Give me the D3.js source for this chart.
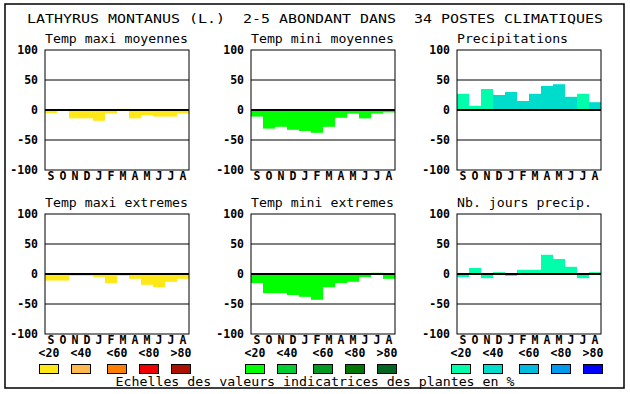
<!DOCTYPE html>
<html>
<head>
<meta charset="utf-8">
<script src="https://cdn.jsdelivr.net/npm/d3@7"></script>
<style>
  body { margin: 0; background: #fff; }
  text { font-family: "DejaVu Sans Mono", "Liberation Mono", monospace; fill: #000; }
  .tick-lbl, .month, .leg-lbl { font-weight: bold; font-size: 11.5px; }
</style>
</head>
<body>
<div id="chart"></div>
<script>
// Climate profile of a species, six small bar panels

const title = 'LATHYRUS MONTANUS (L.)  2-5 ABONDANT DANS  34 POSTES CLIMATIQUES';
const footer = 'Echelles des valeurs indicatrices des plantes en %';
const months = ['S', 'O', 'N', 'D', 'J', 'F', 'M', 'A', 'M', 'J', 'J', 'A'];
const yTicks = [100, 50, 0, -50, -100];

const tmaxMoy = [-5, 0, -14, -14, -18, -6, 2, -14, -9, -11, -11, -6];
const tminMoy = [-11, -31, -28, -33, -35, -38, -28, -13, -6, -14, -6, -4];
const precip = [27, 7, 35, 25, 30, 15, 27, 40, 43, 22, 27, 13];
const tmaxExt = [-11, -11, -3, -3, -5, -15, -3, -8, -18, -22, -13, -8];
const tminExt = [-15, -32, -32, -35, -38, -43, -22, -15, -13, -5, 2, -8];
const joursPrecip = [-5, 10, -7, 3, -3, 7, 7, 32, 25, 12, -7, 3];

// colour class of each bar (index into the panel's scale)
const precipClass = [0, 0, 0, 1, 1, 1, 1, 1, 1, 1, 0, 1];
const allFirst = months.map(() => 0);

const legendLabels = ['<20', '<40', '<60', '<80', '>80'];
const tempMaxColors = ['#ffe818', '#ffb84d', '#ff8000', '#ee0000', '#aa1100'];
const tempMinColors = ['#00ff00', '#00cc33', '#009922', '#007700', '#006622'];
const waterColors = ['#00ffaa', '#00dccc', '#00bbdd', '#0099ee', '#0000ff'];

const panels = [
  { name: 'Temp maxi moyennes', values: tmaxMoy, cls: allFirst, colors: tempMaxColors, col: 0, row: 0 },
  { name: 'Temp mini moyennes', values: tminMoy, cls: allFirst, colors: tempMinColors, col: 1, row: 0 },
  { name: 'Precipitations', values: precip, cls: precipClass, colors: waterColors, col: 2, row: 0 },
  { name: 'Temp maxi extremes', values: tmaxExt, cls: allFirst, colors: tempMaxColors, col: 0, row: 1 },
  { name: 'Temp mini extremes', values: tminExt, cls: allFirst, colors: tempMinColors, col: 1, row: 1 },
  { name: 'Nb. jours precip.', values: joursPrecip, cls: allFirst, colors: waterColors, col: 2, row: 1 },
];

const W = 630, H = 394;
const plotW = 144, plotH = 120;
const colX = [45, 251, 457];
const rowY = [50, 214];

const svg = d3.select('#chart').append('svg')
  .attr('width', W)
  .attr('height', H);

svg.append('rect')
  .attr('x', 5).attr('y', 4)
  .attr('width', 619).attr('height', 384)
  .attr('fill', '#fff')
  .attr('stroke', '#000')
  .attr('stroke-width', 1.5);

svg.append('text')
  .attr('x', W / 2).attr('y', 23)
  .attr('text-anchor', 'middle')
  .attr('font-size', 13)
  .attr('textLength', 576)
  .attr('lengthAdjust', 'spacingAndGlyphs')
  .style('white-space', 'pre')
  .text(title);

const x = d3.scaleBand().domain(d3.range(months.length)).range([0, plotW]);
const y = d3.scaleLinear().domain([-100, 100]).range([plotH, 0]);

panels.forEach(p => {
  const g = svg.append('g')
    .attr('transform', `translate(${colX[p.col]},${rowY[p.row]})`);

  g.append('text')
    .attr('x', 0).attr('y', -7)
    .attr('font-size', 13)
    .attr('textLength', p.name.length * 8 - 1)
    .attr('lengthAdjust', 'spacingAndGlyphs')
    .text(p.name);

  g.selectAll('.bar')
    .data(p.values)
    .enter().append('rect')
    .attr('class', 'bar')
    .attr('x', (d, i) => x(i))
    .attr('width', x.bandwidth())
    .attr('y', d => y(Math.max(0, d)))
    .attr('height', d => Math.abs(y(d) - y(0)))
    .attr('fill', (d, i) => p.colors[p.cls[i]]);

  g.selectAll('.grid')
    .data(yTicks.filter(t => Math.abs(t) < 100))
    .enter().append('line')
    .attr('x1', 0).attr('x2', plotW)
    .attr('y1', d => y(d)).attr('y2', d => y(d))
    .attr('stroke', '#000')
    .attr('stroke-width', d => d === 0 ? 2 : 1);

  g.append('rect')
    .attr('width', plotW).attr('height', plotH)
    .attr('fill', 'none')
    .attr('stroke', '#000');

  g.selectAll('.tick-lbl')
    .data(yTicks)
    .enter().append('text')
    .attr('class', 'tick-lbl')
    .attr('x', -7)
    .attr('y', d => y(d) + 4)
    .attr('text-anchor', 'end')
    .text(d => d);

  g.selectAll('.month')
    .data(months)
    .enter().append('text')
    .attr('class', 'month')
    .attr('x', (d, i) => x(i) + x.bandwidth() / 2)
    .attr('y', plotH + 10)
    .attr('text-anchor', 'middle')
    .text(d => d);
});

// legends under the bottom row
const legendX = [0, 32, 68, 100, 132];
[tempMaxColors, tempMinColors, waterColors].forEach((colors, c) => {
  const lg = svg.append('g')
    .attr('transform', `translate(${colX[c] - 6},0)`);

  lg.selectAll('.leg-lbl')
    .data(legendLabels)
    .enter().append('text')
    .attr('class', 'leg-lbl')
    .attr('x', (d, i) => legendX[i] + 10)
    .attr('y', 357)
    .attr('text-anchor', 'middle')
    .text(d => d);

  lg.selectAll('.swatch')
    .data(colors)
    .enter().append('rect')
    .attr('x', (d, i) => legendX[i] + 0.5)
    .attr('y', 364.5)
    .attr('width', 19).attr('height', 9)
    .attr('fill', d => d)
    .attr('stroke', '#000');
});

svg.append('text')
  .attr('x', 315).attr('y', 386)
  .attr('text-anchor', 'middle')
  .attr('font-size', 13)
  .attr('textLength', 399)
  .attr('lengthAdjust', 'spacingAndGlyphs')
  .text(footer);
</script>
</body>
</html>
